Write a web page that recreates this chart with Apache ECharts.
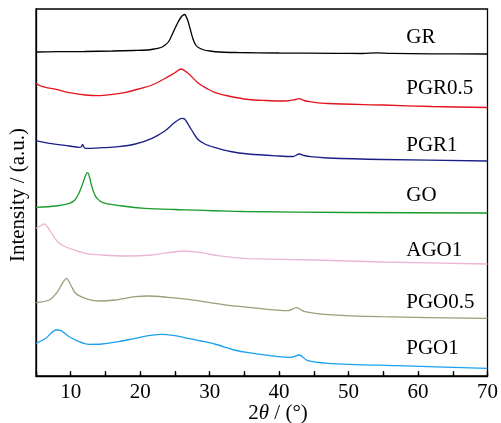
<!DOCTYPE html>
<html>
<head>
<meta charset="utf-8">
<script src="https://cdn.jsdelivr.net/npm/echarts@6/dist/echarts.min.js"></script>
<style>
  html, body { margin: 0; padding: 0; background: #fff; }
  #chart { width: 501px; height: 423px; }
</style>
</head>
<body>
<div id="chart"></div>
<script>
// XRD patterns, stacked with vertical offsets: [2θ (°), intensity (a.u.)]
const GR = [[5,324],[8,324.3],[12,324.5],[16,325],[19,325.5],[21,326],[22,327],[23,328.5],[23.6,331],[24.1,334.5],[24.5,340],[25,347.5],[25.5,354.5],[25.9,359],[26.15,360.8],[26.4,361.5],[26.65,359],[26.9,354.5],[27.2,347],[27.6,337],[28,331],[28.5,328],[29.2,326],[30,325],[31.5,324],[34,323.5],[40,323],[48,322.7],[52,322.5],[54,323.2],[56,322.6],[62,322.2],[70,322]];
const PGR05 = [[5,292.7],[5.5,290.5],[6.4,288.7],[7.9,286.7],[9.8,283.3],[12.1,281],[14,280.3],[16,281.7],[17.9,283.7],[19.8,287],[21.7,291],[23.6,297.7],[25,303.3],[25.9,307],[26.9,302.7],[28.3,293.3],[29.8,286.7],[30.7,283.7],[32.7,280],[35.6,276.5],[38,275.5],[41,275],[42.4,276.5],[42.9,277.3],[43.6,275.5],[44.5,274.3],[47,272.5],[55,271],[62,269.5],[70,268.5]];
const PGR1 = [[5,235.3],[6.9,232.7],[9.8,230],[11.2,228.7],[11.5,229],[11.7,231.7],[11.9,229],[12.1,227.7],[14.5,228.3],[16.9,229.3],[19.3,232],[21.7,237.7],[23.6,245.3],[25,253.7],[26,257.7],[26.4,257],[27.4,246],[28.3,236.7],[29.3,232],[30.7,228.7],[33,224.5],[35.6,222],[40,220],[42,219.5],[42.9,222],[43.6,220.5],[44.5,219.3],[47,218],[55,216.5],[70,215]];
const GO = [[5,168.7],[7.9,170],[9.8,172.7],[10.6,176],[11.2,183],[11.6,190],[11.9,196],[12.2,201.5],[12.45,203.3],[12.7,199],[12.9,193],[13.2,186],[13.6,179.3],[14.2,175],[15,172.7],[17.4,170],[20.7,167.7],[25,166.5],[35,164.5],[50,163.5],[70,163]];
const AGO1 = [[5,147.7],[5.6,150],[6.2,152],[6.6,149.5],[7.1,144.5],[7.9,136],[8.7,131],[9.8,127.7],[12.1,122.7],[14.5,121],[18.3,120],[21.7,121],[24,123.3],[26.4,125],[28.8,123.3],[31.2,120.3],[33.6,118.3],[35.6,117.3],[45,116],[55,114],[70,112]];
const PGO05 = [[5,73.3],[6.9,76],[8.1,84.3],[8.8,92.7],[9.4,97.7],[10,91],[10.7,82.7],[12.1,77.7],[14,75],[16.4,76],[19.3,79.3],[21.2,80],[24,78.7],[26.9,76.7],[29.8,73.7],[33.1,70.3],[35.6,68.7],[41.3,65.3],[42.5,68.3],[43.7,64.3],[46.5,61.7],[54.6,59.3],[70,57.7]];
const PGO1 = [[5,32.7],[6.4,37.7],[7.9,46],[8.6,45.3],[9.8,39.3],[11.2,34.3],[12.6,31.7],[14.5,32],[16.9,34.3],[19.3,37.7],[21.2,40.3],[23.1,41.7],[25,40.3],[26.9,37.7],[28.8,35],[30.7,32],[33.6,26],[35.6,23.3],[39.9,19.3],[41.7,18.7],[42.9,21],[44.1,15.3],[47,12.7],[57,10.3],[70,7.7]];

const sampleNames = ['GR', 'PGR0.5', 'PGR1', 'GO', 'AGO1', 'PGO0.5', 'PGO1'];
const sampleData = [GR, PGR05, PGR1, GO, AGO1, PGO05, PGO1];
const sampleColors = ['#000000', '#e3141e', '#1a1f86', '#179b2c', '#eab6d4', '#9aa07a', '#1ba0ef'];
// name label anchor heights (a.u.) on the right side of the plot
const labelLevels = [339, 288, 231, 181, 126, 74, 28];
const labelX = 58.3;

const xTickLabels = ['10', '20', '30', '40', '50', '60', '70'];

const FONT = '"Liberation Serif", "Times New Roman", serif';

const chart = echarts.init(document.getElementById('chart'), null, { renderer: 'canvas' });

const series = sampleData.map((d, i) => ({
  name: sampleNames[i],
  type: 'line',
  data: d,
  showSymbol: false,
  smooth: 0.3,
  lineStyle: { color: sampleColors[i], width: 1.3 },
  itemStyle: { color: sampleColors[i] },
  animation: false,
  z: 3,
  markPoint: {
    symbol: 'rect',
    symbolSize: 0,
    silent: true,
    data: [{ coord: [labelX, labelLevels[i]] }],
    label: {
      show: true,
      formatter: sampleNames[i],
      position: 'right',
      distance: 0,
      fontFamily: FONT,
      fontSize: 21,
      color: '#000'
    }
  }
}));

const isMajor = v => Math.round(v) % 10 === 0;

chart.setOption({
  animation: false,
  grid: {
    left: 36, right: 10, top: 9, bottom: 47,
    show: true, borderColor: '#000', borderWidth: 1.3, backgroundColor: 'transparent'
  },
  xAxis: [
    {
      type: 'value', min: 5, max: 70, interval: 5,
      axisLine: { show: true, lineStyle: { color: '#000', width: 1.3 } },
      axisTick: {
        show: true, inside: true, length: 5,
        lineStyle: { color: '#000', width: 1.3 },
        interval: (idx, v) => isMajor(v)
      },
      axisLabel: {
        show: true, margin: 6, color: '#000', fontFamily: FONT, fontSize: 21,
        formatter: v => (isMajor(v) && xTickLabels.indexOf(String(v)) >= 0) ? String(v) : ''
      },
      splitLine: { show: false }
    },
    {
      type: 'value', min: 5, max: 70, interval: 5, position: 'bottom', gridIndex: 0,
      axisLine: { show: false },
      axisTick: { show: true, inside: true, length: 3, lineStyle: { color: '#000', width: 1.3 } },
      axisLabel: { show: false },
      splitLine: { show: false }
    }
  ],
  yAxis: {
    type: 'value', min: 0, max: 367,
    axisLine: { show: true, lineStyle: { color: '#000', width: 1.3 } },
    axisTick: { show: false },
    axisLabel: { show: false },
    splitLine: { show: false }
  },
  graphic: [
    {
      type: 'text', x: 278, y: 413,
      style: {
        text: '{n|2}{i|θ}{n| / (°)}',
        align: 'center', verticalAlign: 'middle',
        rich: {
          n: { fontFamily: FONT, fontSize: 21, fill: '#000' },
          i: { fontFamily: FONT, fontSize: 21, fontStyle: 'italic', fill: '#000' }
        }
      }
    },
    {
      type: 'text', x: 18, y: 195, rotation: Math.PI / 2,
      style: {
        text: 'Intensity / (a.u.)',
        align: 'center', verticalAlign: 'middle',
        fontFamily: FONT, fontSize: 21, fill: '#000'
      }
    }
  ],
  series: series
});
</script>
</body>
</html>
